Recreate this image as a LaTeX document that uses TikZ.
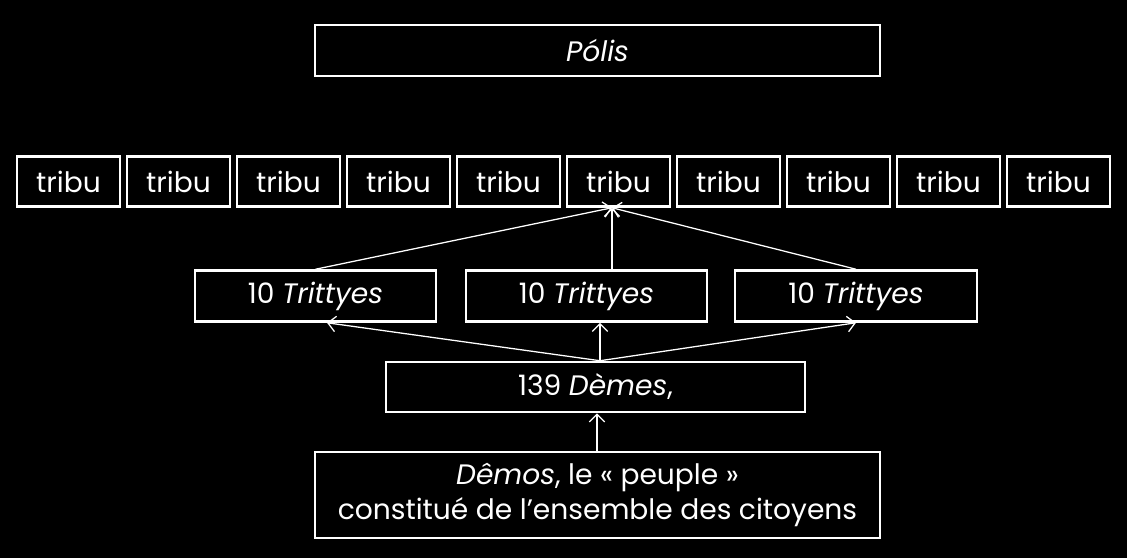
\documentclass[tikz,border=0pt]{standalone}
\usepackage{fontspec}
\setmainfont{Poppins}
\usetikzlibrary{arrows.meta}

\tikzset{
  box/.style={draw=white, line width=1.8pt, text=white, inner sep=0pt, font=\fontsize{20}{25}\selectfont},
  link/.style={draw=white, line width=0.9pt, -{Straight Barb[length=5.5pt,width=11pt]}}
}

\begin{document}
\begin{tikzpicture}[x=0.025cm, y=-0.025cm]
        \fill[black] (0,0) rectangle (1127,558);
        \useasboundingbox (0,0) rectangle (1127,558);
        % top
        \node[box, minimum width=565*0.025cm, minimum height=51*0.025cm] (polis) at (597.5,50.5) {\textit{Pólis}};
        % tribus
        \foreach \i in {1,...,10}
          \node[box, minimum width=103*0.025cm, minimum height=50*0.025cm] (tribu\i) at ({68.5+110*(\i-1)},181.5) {tribu};
        % trittyes
        \node[box, minimum width=241*0.025cm, minimum height=51*0.025cm] (tritA) at (315.5,296) {10 \textit{Trittyes}};
        \node[box, minimum width=241*0.025cm, minimum height=51*0.025cm] (tritB) at (586.5,296) {10 \textit{Trittyes}};
        \node[box, minimum width=242*0.025cm, minimum height=51*0.025cm] (tritC) at (856,296) {10 \textit{Trittyes}};
        % demes
        \node[box, minimum width=419*0.025cm, minimum height=50*0.025cm] (demes) at (595.5,387) {139 \textit{Dèmes},};
        \node[box, minimum width=565*0.025cm, minimum height=86*0.025cm, align=center] (demos) at (597.5,495)
          {\textit{Dêmos}, le « peuple »\\constitué de l’ensemble des citoyens};
        % arrows
        \draw[link] (demos.north -| 597,0) -- (demes.south -| 597,0);
        \draw[link] (demes.north -| 600,0) -- ([xshift=11.5*0.025cm]tritA.south);
        \draw[link] (demes.north -| 600,0) -- (tritB.south -| 600,0);
        \draw[link] (demes.north -| 600,0) -- (tritC.south);
        \draw[link] (tritA.north) -- (tribu6.south -| 612,0);
        \draw[link] (tritB.north -| 612,0) -- (tribu6.south -| 612,0);
        \draw[link] (tritC.north) -- (tribu6.south -| 612,0);
      \end{tikzpicture}
\end{document}
